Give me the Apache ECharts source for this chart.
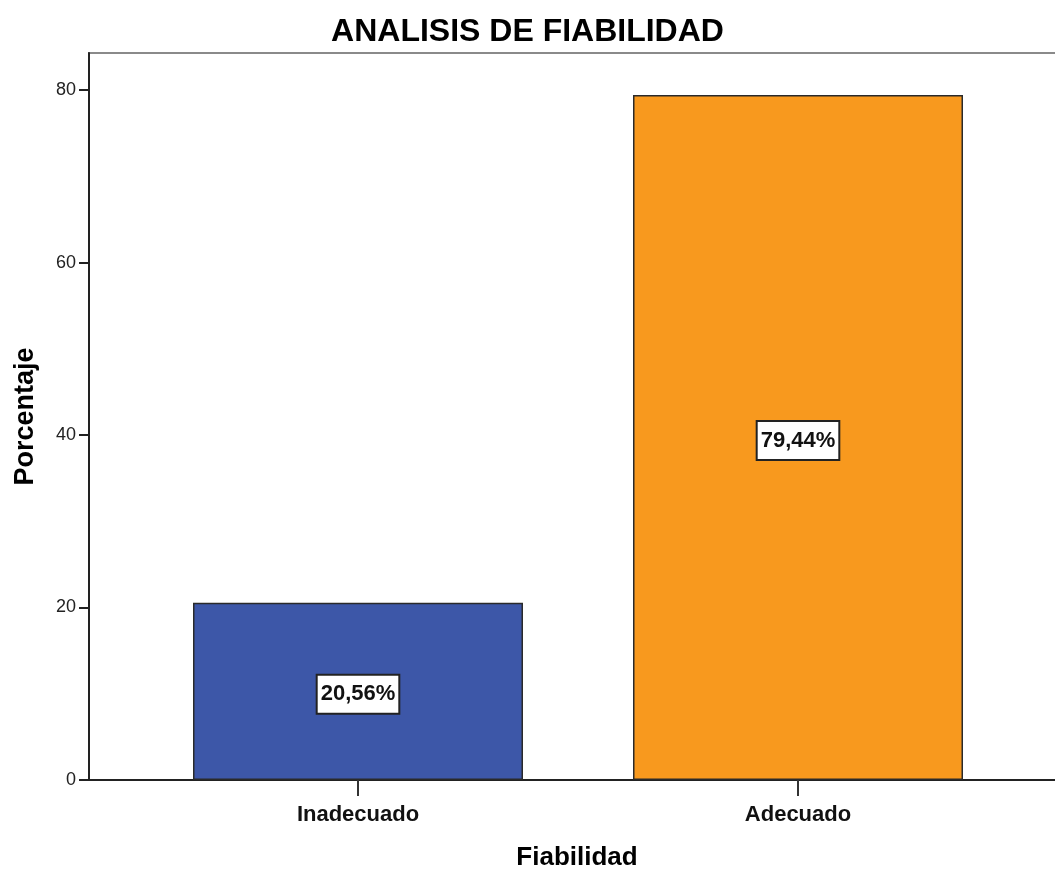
<!DOCTYPE html>
<html>
<head>
<meta charset="utf-8">
<script src="https://cdn.jsdelivr.net/npm/echarts@6/dist/echarts.min.js"></script>
<style>html,body{margin:0;padding:0;background:#fff}#c{width:1055px;height:872px}</style>
</head>
<body>
<div id="c"></div>
<script>
const categories = ['Inadecuado', 'Adecuado'];
const values = [20.56, 79.44];
const barColors = ['#3D57A8', '#F8991E'];
const yTicks = [0, 20, 40, 60, 80];
const yMax = 84.3;

const chart = echarts.init(document.getElementById('c'), null, {renderer: 'canvas'});
const fam = '"Liberation Sans", Arial, sans-serif';
chart.setOption({
  animation: false,
  backgroundColor: '#fff',
  title: {
    text: 'ANALISIS DE FIABILIDAD',
    left: 'center', top: 11,
    textStyle: {fontFamily: fam, fontSize: 32, fontWeight: 'bold', color: '#000'}
  },
  grid: [
    {left: 89, width: 976, top: 53, bottom: 92, outerBoundsMode: 'none', containLabel: false, show: true, borderColor: '#8a8a8a', borderWidth: 2, backgroundColor: 'transparent'},
    {left: 138, right: 37, top: 53, bottom: 92, outerBoundsMode: 'none', containLabel: false}
  ],
  xAxis: [
    {
      type: 'value', gridIndex: 0, min: 0, max: 1,
      axisLine: {show: true, lineStyle: {color: '#222', width: 2}},
      axisTick: {show: false}, axisLabel: {show: false}, splitLine: {show: false},
      name: 'Fiabilidad', nameLocation: 'middle', nameGap: 65,
      nameTextStyle: {fontFamily: fam, fontSize: 26, fontWeight: 'bold', color: '#000'}
    },
    {
      type: 'category', gridIndex: 1, data: categories,
      axisLine: {show: false},
      axisTick: {show: true, alignWithLabel: true, length: 16, lineStyle: {color: '#333', width: 2}},
      axisLabel: {margin: 24, fontFamily: fam, fontSize: 22, fontWeight: 'bold', color: '#111'},
      splitLine: {show: false}
    }
  ],
  yAxis: [
    {
      type: 'value', gridIndex: 0, min: 0, max: yMax, interval: 20,
      axisLine: {show: true, lineStyle: {color: '#222', width: 2}},
      axisTick: {show: true, length: 10, customValues: yTicks, lineStyle: {color: '#222', width: 2}},
      axisLabel: {margin: 13, customValues: yTicks, fontFamily: fam, fontSize: 18, color: '#222'},
      splitLine: {show: false},
      name: 'Porcentaje', nameLocation: 'middle', nameGap: 50, nameRotate: 90,
      nameTextStyle: {fontFamily: fam, fontSize: 27, fontWeight: 'bold', color: '#000'}
    },
    {
      type: 'value', gridIndex: 1, min: 0, max: yMax, show: false
    }
  ],
  series: [{
    type: 'bar', xAxisIndex: 1, yAxisIndex: 1,
    barWidth: 330,
    data: values.map((v, i) => ({value: v, itemStyle: {color: barColors[i]}})),
    itemStyle: {borderColor: '#2a2a2a', borderWidth: 1.5},
    label: {
      show: true, position: 'inside', offset: [0, 3],
      formatter: p => p.value.toFixed(2).replace('.', ',') + '%',
      fontFamily: fam,
      fontSize: 22, fontWeight: 'bold', color: '#111',
      lineHeight: 27,
      backgroundColor: '#fff', borderColor: '#222', borderWidth: 2,
      padding: [5, 3]
    }
  }]
});
</script>
</body>
</html>
